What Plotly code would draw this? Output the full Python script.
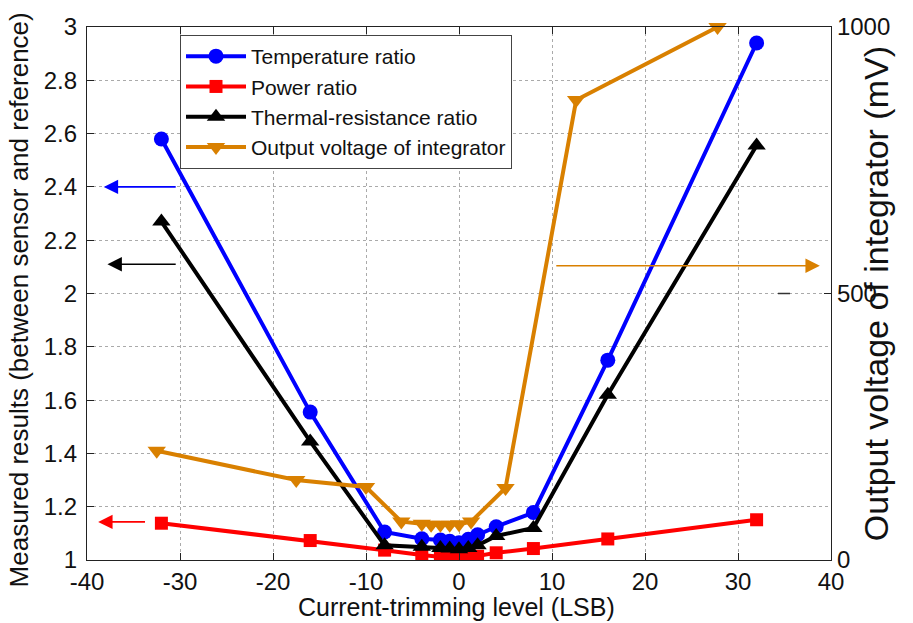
import plotly.graph_objects as go

# ---- data ----
x_levels = [-32, -16, -8, -4, -2, -1, 0, 1, 2, 4, 8, 16, 32]
temp_ratio = [2.58, 1.555, 1.105, 1.08, 1.075, 1.07, 1.065, 1.078, 1.095, 1.125, 1.178, 1.75, 2.94]
power_ratio = [1.138, 1.073, 1.037, 1.019, 1.011, 1.009, 1.005, 1.009, 1.014, 1.027, 1.043, 1.079, 1.151]
thermal_ratio = [2.27, 1.445, 1.055, 1.05, 1.045, 1.043, 1.04, 1.045, 1.055, 1.09, 1.12, 1.62, 2.555]

volt_x = [-32.5, -17.5, -10, -6.2, -4, -3, -2, -1, 0, 1.3, 5, 12.6, 27.8]
volt_mv = [205, 150, 137, 72, 68, 66, 66, 66, 67, 72, 135, 863, 1000]

x_ticks = [-40, -30, -20, -10, 0, 10, 20, 30, 40]
x_tick_text = ["-40", "-30", "-20", "-10", "0", "10", "20", "30", "40"]
y_ticks = [1, 1.2, 1.4, 1.6, 1.8, 2, 2.2, 2.4, 2.6, 2.8, 3]
y_tick_text = ["1", "1.2", "1.4", "1.6", "1.8", "2", "2.2", "2.4", "2.6", "2.8", "3"]
y2_ticks = [0, 500, 1000]

x_title = "Current-trimming level (LSB)"
y_title = "Measured results (between sensor and reference)"
y2_title = "Output voltage of integrator (mV)"

FONT = "Liberation Sans, Arial, sans-serif"
BLUE = "#0000ff"
RED = "#ff0000"
BLACK = "#000000"
ORANGE = "#d98000"

fig = go.Figure()
fig.add_trace(go.Scatter(x=x_levels, y=temp_ratio, name="Temperature ratio",
                         mode="lines+markers", line=dict(color=BLUE, width=4),
                         marker=dict(symbol="circle", size=15, color=BLUE)))
fig.add_trace(go.Scatter(x=x_levels, y=power_ratio, name="Power ratio",
                         mode="lines+markers", line=dict(color=RED, width=4),
                         marker=dict(symbol="square", size=13, color=RED)))
fig.add_trace(go.Scatter(x=x_levels, y=thermal_ratio, name="Thermal-resistance ratio",
                         mode="lines+markers", line=dict(color=BLACK, width=4),
                         marker=dict(symbol="triangle-up", size=16, color=BLACK)))
fig.add_trace(go.Scatter(x=volt_x, y=volt_mv, name="Output voltage of integrator",
                         mode="lines+markers", line=dict(color=ORANGE, width=4),
                         marker=dict(symbol="triangle-down", size=16, color=ORANGE),
                         yaxis="y2", cliponaxis=False))

# arrows indicating axes
arrows = [
    dict(x=-38.2, y=2.4, ax=-30.3, ay=2.4, color=BLUE, yref="y"),
    dict(x=-37.8, y=2.11, ax=-30.3, ay=2.11, color=BLACK, yref="y"),
    dict(x=-38.8, y=1.143, ax=-33.6, ay=1.143, color=RED, yref="y"),
    dict(x=38.8, y=552, ax=10.3, ay=552, color=ORANGE, yref="y2"),
]
for a in arrows:
    fig.add_annotation(x=a["x"], y=a["y"], ax=a["ax"], ay=a["ay"], xref="x", yref=a["yref"],
                       axref="x", ayref=a["yref"], text="", showarrow=True,
                       arrowhead=2, arrowsize=1.8, arrowwidth=1.6, arrowcolor=a["color"])

# axis titles placed as annotations
fig.add_annotation(text=x_title, xref="paper", yref="paper", x=0.496, y=-0.088,
                   showarrow=False, font=dict(family=FONT, size=25, color="#111111"),
                   xanchor="center", yanchor="middle")
fig.add_annotation(text=y_title, xref="paper", yref="paper", x=-0.092, y=0.488,
                   showarrow=False, textangle=-90, font=dict(family=FONT, size=26, color="#111111"),
                   xanchor="center", yanchor="middle")
fig.add_annotation(text=y2_title, xref="paper", yref="paper", x=1.06, y=0.5,
                   showarrow=False, textangle=-90, font=dict(family=FONT, size=34, color="#111111"),
                   xanchor="center", yanchor="middle")

# stray short dash near right axis
fig.add_shape(type="line", x0=34.3, x1=35.6, y0=500, y1=500, xref="x", yref="y2",
              line=dict(color="#333333", width=1.5))

axis_common = dict(showline=True, linecolor="#222222", linewidth=1.2, ticks="inside",
                   ticklen=7, tickcolor="#222222", tickfont=dict(family=FONT, size=24, color="#111111"),
                   zeroline=False, automargin=False)

fig.update_layout(
    width=913, height=623,
    margin=dict(l=79, r=90, t=19, b=71),
    paper_bgcolor="white", plot_bgcolor="white",
    font=dict(family=FONT, color="#111111"),
    showlegend=True,
    legend=dict(x=0.125, y=0.985, xanchor="left", yanchor="top",
                bgcolor="white", bordercolor="#444444", borderwidth=1,
                font=dict(family=FONT, size=21, color="#111111"),
                itemwidth=60, tracegroupgap=0),
    xaxis=dict(range=[-40, 40], tickvals=x_ticks, ticktext=x_tick_text, mirror="ticks",
               showgrid=True, gridcolor="#aaaaaa", griddash="dot", gridwidth=1,
               **axis_common),
    yaxis=dict(range=[1, 3], tickvals=y_ticks, ticktext=y_tick_text, ticklabelstandoff=4,
               showgrid=True, gridcolor="#aaaaaa", griddash="dot", gridwidth=1,
               **axis_common),
    yaxis2=dict(range=[0, 1000], tickvals=y2_ticks, overlaying="y", side="right",
                showgrid=False,
                **axis_common),
)

fig.write_html("out.html")
